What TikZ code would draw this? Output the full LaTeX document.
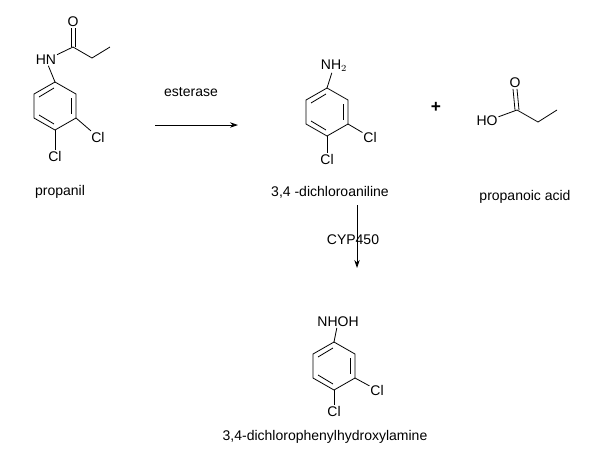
\documentclass[tikz,border=0pt]{standalone}
\usepackage{fontspec}
\setmainfont{Liberation Sans}
\usepackage{tikz}
\usetikzlibrary{arrows.meta}

\tikzset{
	lbl/.style={font=\fontsize{10.5}{12}\selectfont, inner sep=0.5pt},
	bnd/.style={line width=0.6pt},
	rxn/.style={line width=0.6pt, -{Stealth[length=6pt,width=4pt]}}
}

% ring with alternating inner double bonds, centre #1
\newcommand{\aryl}[1]{
	\begin{scope}[shift={#1}]
		\draw[bnd] (0,-24) -- (21,-12) -- (21,12) -- (0,24) -- (-21,12) -- (-21,-12) -- cycle;
		\draw[bnd] (-16,-9) -- (-1,-18);
		\draw[bnd] (16,-8) -- (16,8);
		\draw[bnd] (-1,18) -- (-16,9);
	\end{scope}
}

\begin{document}
\begin{tikzpicture}[x=0.75pt,y=-0.75pt]
	\useasboundingbox (0,0) rectangle (600,465);
	
	% propanil
	\aryl{(55,106)}
	\node[lbl] (hn) at (46,60) {HN};
	\node[lbl] (o1) at (73,22) {O};
	\coordinate (c1) at (73,47);
	\coordinate (c2) at (92,58);
	\coordinate (c3) at (110,47);
	\node[lbl] (cl1) at (98,137) {Cl};
	\node[lbl] (cl2) at (55,156) {Cl};
	\draw[bnd] (55,82) -- (hn);
	\draw[bnd] (hn) -- (c1) -- (c2) -- (c3);
	\draw[bnd] ([xshift=-1.5]c1) -- ([xshift=-1.5]o1.south);
	\draw[bnd] ([xshift=1.5]c1) -- ([xshift=1.5]o1.south);
	\draw[bnd] (76,118) -- (cl1);
	\draw[bnd] (55,130) -- (cl2);
	\node[lbl] (propanil) at (60,192) {propanil};
	
	% esterase step
	\coordinate (e1) at (155,125);
	\coordinate (e2) at (238,125);
	\draw[rxn] (e1) -- (e2);
	\node[lbl] (esterase) at (191,92) {esterase};
	
	% 3,4-dichloroaniline
	\aryl{(327,112)}
	\node[lbl] (nh2) at (334,66) {NH$_2$};
	\node[lbl] (cl3) at (370,137) {Cl};
	\node[lbl] (cl4) at (327,159) {Cl};
	\draw[bnd] (327,88) -- (nh2);
	\draw[bnd] (348,124) -- (cl3);
	\draw[bnd] (327,136) -- (cl4);
	\node[lbl] (dca) at (330,192) {3,4 -dichloroaniline};
	
	\node[font=\fontsize{13}{14}\selectfont\bfseries] (plus) at (436,107) {+};
	
	% propanoic acid
	\node[lbl] (ho) at (487,121) {HO};
	\node[lbl] (o2) at (515,83) {O};
	\coordinate (c4) at (517,110);
	\coordinate (c5) at (538,122);
	\coordinate (c6) at (557,110);
	\draw[bnd] (ho) -- (c4) -- (c5) -- (c6);
	\draw[bnd] ([xshift=-1.5]c4) -- ([xshift=-1.5]o2.south);
	\draw[bnd] ([xshift=1.5]c4) -- ([xshift=1.5]o2.south);
	\node[lbl] (acid) at (525,197) {propanoic acid};
	
	% CYP450 step
	\coordinate (p1) at (357,205);
	\coordinate (p2) at (357,268);
	\draw[rxn] (p1) -- (p2);
	\node[lbl] (cyp) at (353,240) {CYP450};
	
	% 3,4-dichlorophenylhydroxylamine
	\aryl{(334,366)}
	\node[lbl] (nhoh) at (338,322) {NHOH};
	\node[lbl] (cl5) at (377,390) {Cl};
	\node[lbl] (cl6) at (334,411) {Cl};
	\draw[bnd] (334,342) -- (nhoh);
	\draw[bnd] (355,378) -- (cl5);
	\draw[bnd] (334,390) -- (cl6);
	\node[lbl] (hya) at (325,437) {3,4-dichlorophenylhydroxylamine};
	
\end{tikzpicture}
\end{document}
